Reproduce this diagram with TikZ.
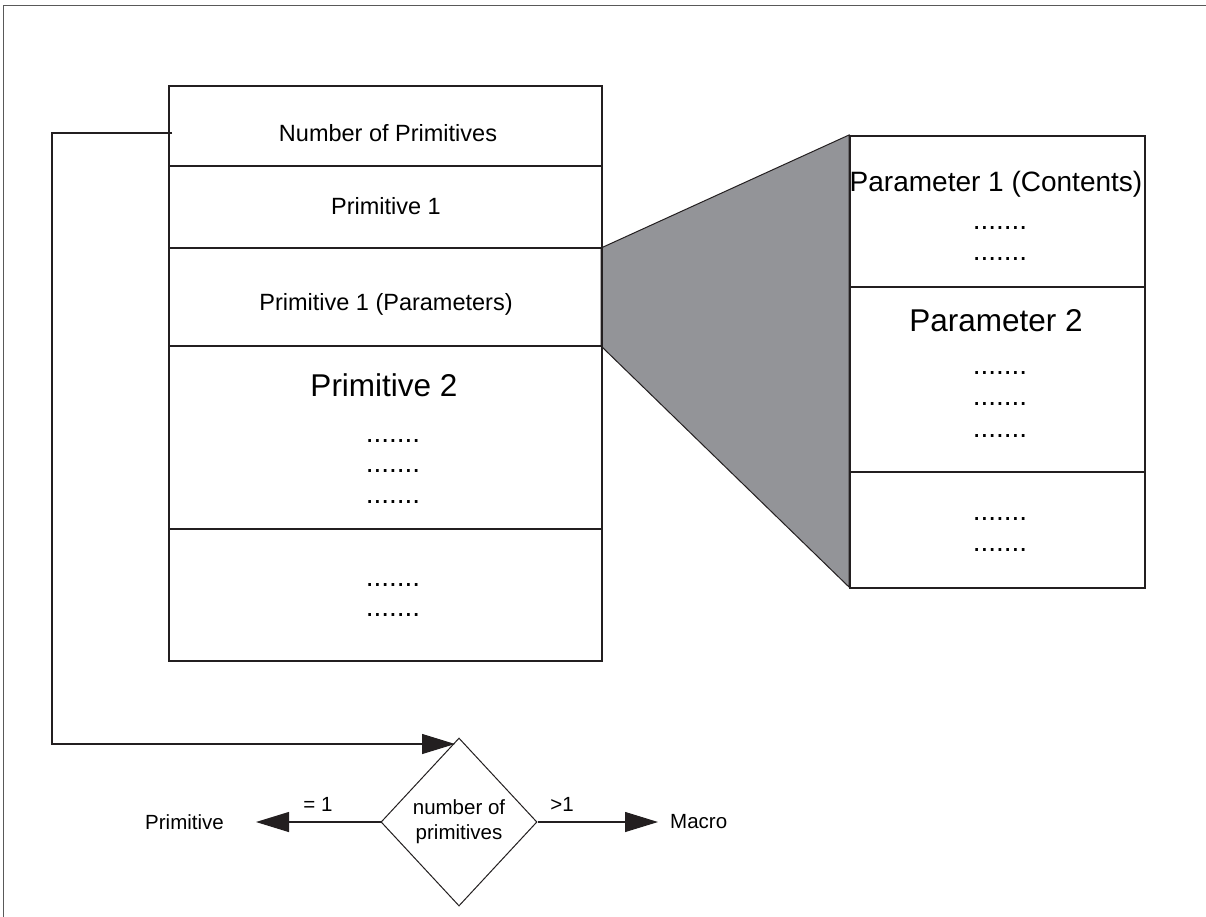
\documentclass[tikz,border=0pt]{standalone}
\usepackage{fontspec}
\setmainfont{Liberation Sans}
\usetikzlibrary{arrows.meta,shapes.geometric}
\definecolor{wedgegray}{HTML}{939498}
\definecolor{ink}{HTML}{231F20}
\begin{document}
\begin{tikzpicture}[x=1pt,y=-1pt,
  frame/.style={draw=black!65,line width=0.9pt},
  block/.style={draw=ink,line width=2.2pt,inner sep=0,anchor=north west},
  rule/.style={draw=ink,line width=2pt},
  wedge/.style={fill=wedgegray,draw=ink,line width=1pt,line join=miter},
  txt/.style={font=\fontsize{23.5}{26}\selectfont,inner sep=0,anchor=base},
  ptxt/.style={font=\fontsize{28}{30}\selectfont,inner sep=0,anchor=base},
  big/.style={font=\fontsize{31.5}{34}\selectfont,inner sep=0,anchor=base},
  dots/.style={font=\fontsize{28}{30}\selectfont,inner sep=0,anchor=base},
  small/.style={font=\fontsize{20.5}{26}\selectfont,inner sep=0},
  decision/.style={diamond,draw=ink,line width=1pt,inner sep=0,
    minimum width=156pt,minimum height=168pt,align=center,
    font=\fontsize{20.5}{25}\selectfont},
  link/.style={draw=ink,line width=1.1pt},
  head/.style={-{Triangle[length=33pt,width=20pt]}}
]
\useasboundingbox (0,0) rectangle (1206,916);
\fill[white] (0,0) rectangle (1206,916);

% outer frame
\draw[frame] (3,930) -- (3,5) -- (1220,5);

% zoom wedge between the two tables
\filldraw[wedge] (601,248) -- (849,135) -- (849,587) -- (601,346) -- cycle;

% left table
\node[block,minimum width=433pt,minimum height=575pt] (L) at (168,85) {};
\foreach \y in {166,248,346,529}
  \draw[rule] (L.west |- 0,\y) -- (L.east |- 0,\y);

\node[txt] (n0) at (388,141) {Number of Primitives};
\node[txt] (n1) at (386,214) {Primitive 1};
\node[txt] (n2) at (386,310) {Primitive 1 (Parameters)};
\node[big] (n3) at (384,396) {Primitive 2};
\node[dots] (d1) at (393,442) {.......};
\node[dots] (d2) at (393,472) {.......};
\node[dots] (d3) at (393,503) {.......};
\node[dots] (d4) at (393,586) {.......};
\node[dots] (d5) at (393,616) {.......};

% right table
\node[block,minimum width=295pt,minimum height=452pt] (R) at (849,135) {};
\foreach \y in {287,472}
  \draw[rule] (R.west |- 0,\y) -- (R.east |- 0,\y);

\node[ptxt] (p1) at (996,191) {Parameter 1 (Contents)};
\node[dots] (e1) at (1000,229) {.......};
\node[dots] (e2) at (1000,260) {.......};
\node[big] (p2) at (996,331) {Parameter 2};
\node[dots] (e3) at (1000,374) {.......};
\node[dots] (e4) at (1000,405) {.......};
\node[dots] (e5) at (1000,437) {.......};
\node[dots] (e6) at (1000,520) {.......};
\node[dots] (e7) at (1000,551) {.......};

% decision on the primitive count
\node[decision] (dec) at (459,822) {number of\\primitives};
\node[small,anchor=east] (prim) at (224,822) {Primitive};
\node[small,anchor=west] (macro) at (670,822) {Macro};
\node[small] (eq) at (318,804) {= 1};
\node[small] (gt) at (562,804) {>1};

\coordinate (src) at (172,133);
\coordinate (in) at (455,744);
\draw[link,head] (src) -- (52,133) |- (in);
\draw[link,head,shorten >=32pt] (dec.west) -- (prim.east);
\draw[link,head,shorten >=12pt] (dec.east) -- (macro.west);
\end{tikzpicture}
\end{document}
